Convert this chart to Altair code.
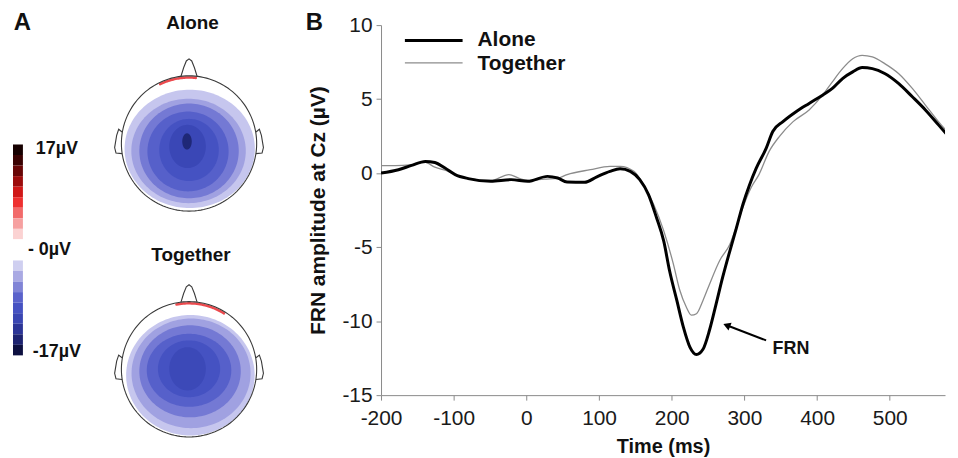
import altair as alt
import numpy as np
import pandas as pd

FONT = "Liberation Sans"

# ---------------- Panel B: FRN waveforms at Cz ----------------
series_names = ["Alone", "Together"]

alone_t = [-200, -176, -158, -139, -126, -112, -98, -80, -49, -21, 2, 29, 43, 56, 80, 97, 115, 129, 143, 156,
           168, 179, 189, 197, 207, 216, 225, 234, 243, 252, 261, 270, 280, 289, 298, 307, 316, 330, 339, 353,
           371, 389, 408, 421, 435, 449, 462, 476, 493, 512, 531, 549, 567, 587]
alone_v = [0.0, 0.23, 0.52, 0.79, 0.72, 0.34, -0.1, -0.37, -0.55, -0.44, -0.55, -0.22, -0.33, -0.6, -0.62, -0.25, 0.12, 0.3, 0.12, -0.44,
           -1.45, -3.0, -4.6, -6.6, -8.6, -10.4, -11.75, -12.25, -11.9, -10.6, -8.85, -7.05, -5.25, -3.7, -2.1, -0.8, 0.3, 1.69, 2.81, 3.48,
           4.15, 4.71, 5.28, 5.72, 6.39, 6.84, 7.13, 7.06, 6.73, 6.06, 5.16, 4.27, 3.26, 2.14]

together_t = [-200, -180, -160, -140, -126, -112, -98, -80, -49, -24, -10, 2, 25, 43, 56, 88, 115, 129, 148, 161,
              175, 189, 202, 211, 220, 227, 234, 243, 252, 266, 280, 289, 298, 310, 320, 334, 348, 367, 389, 408,
              421, 435, 449, 462, 476, 493, 512, 531, 549, 567, 587]
together_v = [0.5, 0.5, 0.55, 0.75, 0.4, 0.2, -0.1, -0.35, -0.5, -0.1, -0.35, -0.5, -0.4, -0.35, -0.1, 0.23, 0.45, 0.46, 0.12, -0.77,
              -2.1, -3.9, -6.1, -7.9, -9.05, -9.6, -9.5, -8.6, -7.5, -5.9, -4.8, -3.6, -2.3, -0.9, -0.1, 1.47, 2.47, 3.48, 4.27, 5.3,
              6.17, 7.06, 7.73, 7.96, 7.85, 7.4, 6.73, 5.72, 4.6, 3.48, 2.36]

x_ticks = [-200, -100, 0, 100, 200, 300, 400, 500]
y_ticks = [-15, -10, -5, 0, 5, 10]
X_DOMAIN = [-200, 576]
Y_DOMAIN = [-15, 10]

frn_label = ["FRN"]
frn_arrow_head = [275.6, -10.28]
frn_arrow_tail = [329.8, -11.3]
frn_text_at = [364, -11.9]

# ---------------- Panel A: topographic maps ----------------
head_names = ["Alone", "Together"]
head_center_v = [0.0, -3.338]

alone_band_colors = ["#c6c6ee", "#a0a1e1", "#7479d4", "#5660ca", "#4552c2", "#3a47b6", "#1f2877"]
alone_band_cx = [0.01, -0.007, 0.0, -0.015, 0.0, -0.022, -0.03]
alone_band_cy = [-0.08, -0.11, -0.11, -0.118, -0.096, -0.044, 0.03]
alone_band_rx = [0.963, 0.846, 0.735, 0.60, 0.44, 0.27, 0.07]
alone_band_ry = [0.875, 0.772, 0.70, 0.59, 0.46, 0.32, 0.12]

together_band_colors = ["#c6c6ee", "#a0a1e1", "#7479d4", "#5660ca", "#4552c2", "#3c49b8"]
together_band_cx = [0.02, 0.03, 0.015, 0.0, 0.0, -0.022]
together_band_cy = [-0.088, -0.06, -0.03, -0.015, 0.007, 0.007]
together_band_rx = [0.95, 0.88, 0.75, 0.625, 0.46, 0.27]
together_band_ry = [0.89, 0.81, 0.68, 0.54, 0.42, 0.32]

red_arc_deg = [[116, 84], [101, 58]]

nose_u = [-0.12, -0.08, -0.04, 0.0, 0.04, 0.08, 0.12]
nose_v = [0.99, 1.12, 1.22, 1.25, 1.22, 1.12, 0.99]
ear_u = [-0.99, -1.04, -1.07, -1.10, -1.08, -0.99]
ear_v = [0.17, 0.21, 0.12, -0.06, -0.14, -0.15]

cb_levels = [17, 15.3, 13.6, 11.9, 10.2, 8.5, 6.8, 5.1, 3.4, 1.7, 0, -1.7, -3.4, -5.1, -6.8, -8.5, -10.2, -11.9, -13.6, -15.3, -17]
cb_colors = ["#160000", "#3a0202", "#680606", "#9c0c0c", "#d01818", "#ee3030", "#f26a6a", "#f6a0a0", "#fbd2d2",
             "#ffffff", "#ffffff",
             "#cfcff0", "#a9a9e3", "#8084d6", "#5a62cb", "#4652c2", "#3a46b2", "#2c3596", "#1d2370", "#0d1040"]
cb_labels = ["17\u00b5V", "- 0\u00b5V", "-17\u00b5V"]
cb_label_levels = [16.2, 0, -16.5]

panel_titles = ["A", "Alone", "Together"]

# ---------------- layout constants ----------------
PA_W, PA_H = 290, 427
U_DOMAIN = [-2.603, 1.662]
V_DOMAIN = [-4.529, 1.75]
PB_W, PB_H = 567, 372
CB_U = [-2.603, -2.456]
LAB_FS = 21


def cb_v(level):
    return (-107 + 6.235 * level) / 68.0


ux = alt.Scale(domain=U_DOMAIN, nice=False, zero=False)
vy = alt.Scale(domain=V_DOMAIN, nice=False, zero=False)

layers_a = []

# contour bands
head_bands = [
    (alone_band_colors, alone_band_cx, alone_band_cy, alone_band_rx, alone_band_ry),
    (together_band_colors, together_band_cx, together_band_cy, together_band_rx, together_band_ry),
]
theta = np.linspace(np.pi, 0, 73)
for hi, (cols, cxs, cys, rxs, rys) in enumerate(head_bands):
    c0 = head_center_v[hi]
    for col, cx, cy, rx, ry in zip(cols, cxs, cys, rxs, rys):
        df = pd.DataFrame({
            "u": cx + rx * np.cos(theta),
            "vt": c0 + cy + ry * np.sin(theta),
            "vb": c0 + cy - ry * np.sin(theta),
        })
        layers_a.append(
            alt.Chart(df).mark_area(color=col, opacity=1).encode(
                x=alt.X("u:Q", scale=ux, axis=None),
                y=alt.Y("vt:Q", scale=vy, axis=None),
                y2="vb:Q",
            )
        )

# red arcs at the frontal rim
arc_rows = []
for hi, (a0, a1) in enumerate(red_arc_deg):
    for k, a in enumerate(np.linspace(np.radians(a0), np.radians(a1), 30)):
        arc_rows.append({"shape": f"arc{hi}", "k": k, "u": 0.975 * np.cos(a), "v": head_center_v[hi] + 0.975 * np.sin(a)})
layers_a.append(
    alt.Chart(pd.DataFrame(arc_rows)).mark_line(color="#ec4a4e", strokeWidth=2.5, strokeCap="round").encode(
        x=alt.X("u:Q", scale=ux, axis=None), y=alt.Y("v:Q", scale=vy, axis=None), detail="shape:N", order="k:Q"
    )
)

# head outlines (circle, nose, ears)
outline_rows = []
circ = np.linspace(0, 2 * np.pi, 145)
for hi, c0 in enumerate(head_center_v):
    for k, a in enumerate(circ):
        outline_rows.append({"shape": f"c{hi}", "k": k, "u": np.cos(a), "v": c0 + np.sin(a)})
    for k, (nu, nv) in enumerate(zip(nose_u, nose_v)):
        outline_rows.append({"shape": f"n{hi}", "k": k, "u": nu, "v": c0 + nv})
    for k, (eu, ev) in enumerate(zip(ear_u, ear_v)):
        outline_rows.append({"shape": f"el{hi}", "k": k, "u": eu, "v": c0 + ev})
        outline_rows.append({"shape": f"er{hi}", "k": k, "u": -eu, "v": c0 + ev})
layers_a.append(
    alt.Chart(pd.DataFrame(outline_rows)).mark_line(color="#3a3a3a", strokeWidth=1.1).encode(
        x=alt.X("u:Q", scale=ux, axis=None), y=alt.Y("v:Q", scale=vy, axis=None), detail="shape:N", order="k:Q"
    )
)

# colour bar
cb_df = pd.DataFrame({
    "u0": [CB_U[0]] * len(cb_colors),
    "u1": [CB_U[1]] * len(cb_colors),
    "v0": [cb_v(l) for l in cb_levels[:-1]],
    "v1": [cb_v(l) for l in cb_levels[1:]],
    "col": cb_colors,
})
layers_a.append(
    alt.Chart(cb_df).mark_rect(strokeWidth=0).encode(
        x=alt.X("u0:Q", scale=ux, axis=None), x2="u1:Q",
        y=alt.Y("v0:Q", scale=vy, axis=None), y2="v1:Q",
        color=alt.Color("col:N", scale=None),
    )
)
cbl_df = pd.DataFrame({"lab": cb_labels, "u": [-2.265, -2.382, -2.309], "v": [cb_v(l) for l in cb_label_levels]})
layers_a.append(
    alt.Chart(cbl_df).mark_text(align="left", baseline="middle", font=FONT, fontWeight="bold", fontSize=18, color="#111").encode(
        x=alt.X("u:Q", scale=ux, axis=None), y=alt.Y("v:Q", scale=vy, axis=None), text="lab:N"
    )
)

# titles
ttl_df = pd.DataFrame({"lab": panel_titles, "u": [-2.463, 0.051, 0.029], "v": [1.78, 1.78, -1.646], "fs": [24, 19, 19]})
layers_a.append(
    alt.Chart(ttl_df).mark_text(align="center", baseline="middle", font=FONT, fontWeight="bold", color="#111").encode(
        x=alt.X("u:Q", scale=ux, axis=None), y=alt.Y("v:Q", scale=vy, axis=None), text="lab:N",
        size=alt.Size("fs:Q", scale=None, legend=None),
    )
)

panel_a = alt.layer(*layers_a).properties(width=PA_W, height=PA_H)

# ---------------- Panel B chart ----------------
wave_df = pd.concat([
    pd.DataFrame({"t": alone_t, "v": alone_v, "series": series_names[0]}),
    pd.DataFrame({"t": together_t, "v": together_v, "series": series_names[1]}),
])

x_enc = alt.X("t:Q", scale=alt.Scale(domain=X_DOMAIN, nice=False, zero=False),
              axis=alt.Axis(values=x_ticks, title="Time (ms)", grid=False, domainColor="#8a8a8a", tickColor="#8a8a8a",
                            tickSize=5, labelFont=FONT, labelFontSize=LAB_FS, labelColor="#1a1a1a", labelPadding=8,
                            labelExpr="toString(datum.value)",
                            titleFont=FONT, titleFontSize=20, titleFontWeight="bold", titleColor="#111", titlePadding=8,
                            labelFlush=False))
y_enc = alt.Y("v:Q", scale=alt.Scale(domain=Y_DOMAIN, nice=False, zero=False),
              axis=alt.Axis(values=y_ticks, title="FRN amplitude at Cz (\u00b5V)", grid=False, domainColor="#8a8a8a",
                            tickColor="#8a8a8a", tickSize=5, labelFont=FONT, labelFontSize=LAB_FS, labelColor="#1a1a1a",
                            labelExpr="toString(datum.value)",
                            labelPadding=4, titleFont=FONT, titleFontSize=21, titleFontWeight="bold", titleColor="#111",
                            titlePadding=13))

together_line = alt.Chart(wave_df).transform_filter(alt.datum.series == series_names[1]).mark_line(
    color="#8c8c8c", strokeWidth=1.3, clip=True, interpolate="monotone").encode(x=x_enc, y=y_enc)
alone_line = alt.Chart(wave_df).transform_filter(alt.datum.series == series_names[0]).mark_line(
    color="#000000", strokeWidth=3, clip=True, interpolate="monotone").encode(x=x_enc, y=y_enc)

arrow_df = pd.DataFrame({"t": [frn_arrow_head[0]], "v": [frn_arrow_head[1]],
                         "t2": [frn_arrow_tail[0]], "v2": [frn_arrow_tail[1]]})
arrow_line = alt.Chart(arrow_df).mark_rule(color="#000", strokeWidth=2).encode(
    x=alt.X("t:Q"), y=alt.Y("v:Q"), x2="t2:Q", y2="v2:Q")
arrow_head = alt.Chart(arrow_df).mark_point(shape="triangle-left", filled=True, size=70, angle=22, color="#000", opacity=1).encode(
    x=alt.X("t:Q"), y=alt.Y("v:Q"))
frn_df = pd.DataFrame({"lab": frn_label, "t": [frn_text_at[0]], "v": [frn_text_at[1]]})
frn_text = alt.Chart(frn_df).mark_text(font=FONT, fontWeight="bold", fontSize=18, color="#111").encode(
    x=alt.X("t:Q"), y=alt.Y("v:Q"), text="lab:N")

leg_a_df = pd.DataFrame({"s": [series_names[0]]})
leg_t_df = pd.DataFrame({"s": [series_names[1]]})
leg_a_rule = alt.Chart(leg_a_df).mark_rule(color="#000", strokeWidth=3).encode(
    x=alt.value(24), x2=alt.value(82), y=alt.value(15.5))
leg_t_rule = alt.Chart(leg_t_df).mark_rule(color="#8c8c8c", strokeWidth=1.3).encode(
    x=alt.value(24), x2=alt.value(82), y=alt.value(38))
leg_a_txt = alt.Chart(leg_a_df).mark_text(align="left", baseline="middle", font=FONT, fontWeight="bold", fontSize=21, color="#111").encode(
    x=alt.value(97), y=alt.value(15.5), text="s:N")
leg_t_txt = alt.Chart(leg_t_df).mark_text(align="left", baseline="middle", font=FONT, fontWeight="bold", fontSize=21, color="#111").encode(
    x=alt.value(97), y=alt.value(39.5), text="s:N")
b_df = pd.DataFrame({"lab": ["B"]})
b_txt = alt.Chart(b_df).mark_text(align="center", baseline="middle", font=FONT, fontWeight="bold", fontSize=24, color="#111").encode(
    x=alt.value(-67), y=alt.value(-2), text="lab:N")

panel_b = alt.layer(together_line, alone_line, arrow_line, arrow_head, frn_text,
                    leg_a_rule, leg_t_rule, leg_a_txt, leg_t_txt, b_txt).properties(width=PB_W, height=PB_H)

chart = alt.hconcat(
    panel_a, panel_b, spacing=80, bounds="flush",
    padding={"left": 5, "top": 1, "right": 5, "bottom": 0},
).configure(font=FONT).configure_view(stroke=None)

chart.save("out.html", embed_options={"renderer": "svg", "actions": False})
